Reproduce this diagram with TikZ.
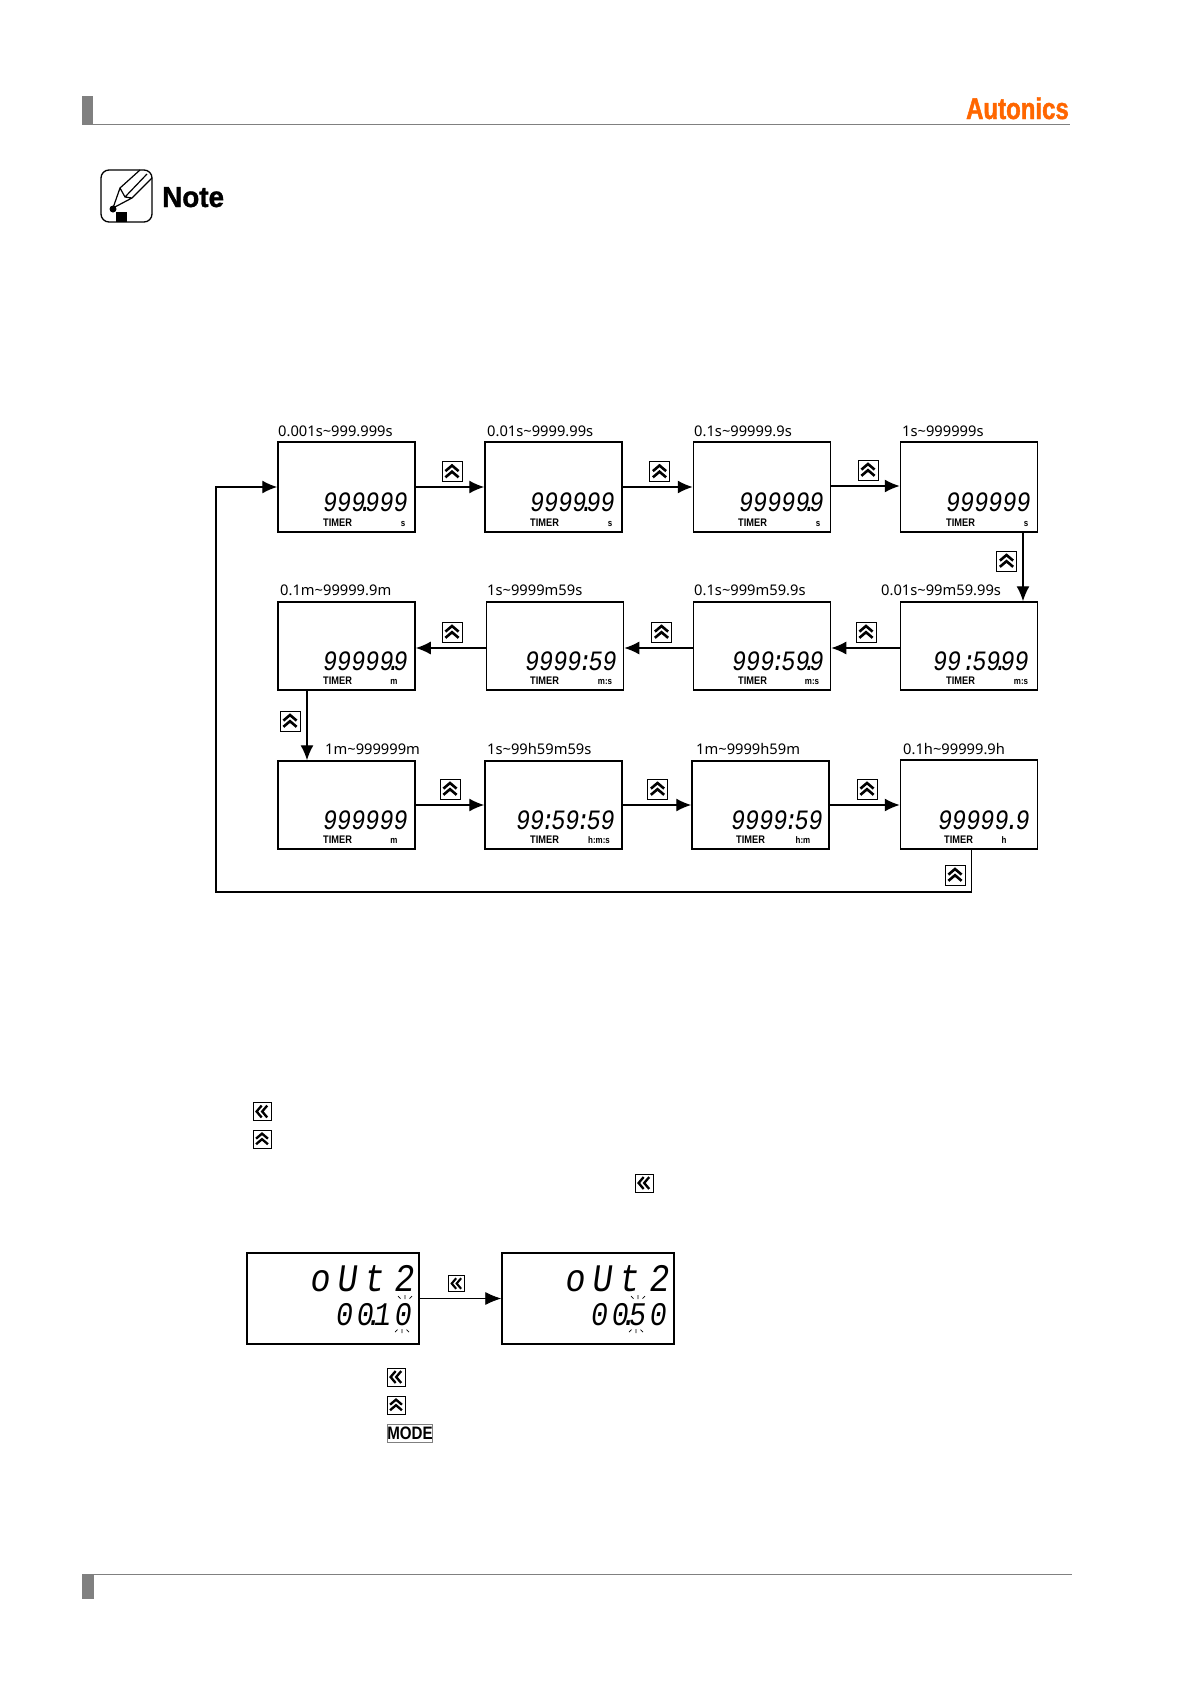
\documentclass[tikz,border=0pt]{standalone}
\usepackage{fontspec}
\setmainfont{Noto Sans}
\newfontfamily\lcdfont[FakeStretch=0.84,FakeSlant=0.14]{Liberation Mono}
\newfontfamily\lcdwide[FakeStretch=0.86,FakeSlant=0.14,LetterSpace=18]{Liberation Mono}
\newfontfamily\lcdmid[FakeStretch=0.86,FakeSlant=0.14,LetterSpace=12]{Liberation Mono}
\newfontfamily\logofont[FakeStretch=0.8,BoldFeatures={FakeBold=1.4}]{Liberation Sans}
\newfontfamily\notefont[FakeStretch=0.96,BoldFeatures={FakeBold=1.2}]{Liberation Sans}
\newfontfamily\tagfont[FakeStretch=0.84]{Liberation Sans}
\usetikzlibrary{arrows.meta,calc,positioning}
\definecolor{rulegray}{HTML}{808080}
\definecolor{logoorange}{HTML}{FF6600}
\newcommand{\lcddot}{\makebox[0pt]{.}}
\newcommand{\lcdcolon}{\makebox[7pt]{:}}
\newcommand{\tightspace}{\spaceskip=10pt\relax}
\tikzset{
    disp/.style={draw, line width=1.5pt, inner sep=0pt, minimum width=137pt, minimum height=88pt},
    rangelabel/.style={anchor=base west, inner sep=0pt, font=\fontsize{14.7}{16}\selectfont},
    digits/.style={anchor=base east, inner sep=0pt, font=\fontsize{28}{28}\lcdfont},
    bigname/.style={anchor=base east, inner sep=0pt, font=\fontsize{39}{39}\lcdwide\tightspace},
    bigval/.style={anchor=base east, inner sep=0pt, font=\fontsize{33}{33}\lcdmid},
    timer/.style={anchor=base west, inner sep=0pt, font=\fontsize{11}{11}\tagfont\bfseries},
    unit/.style={anchor=base, inner sep=0pt, font=\fontsize{9.5}{9.5}\tagfont\bfseries},
    flow/.style={-{Latex[length=15pt, width=13pt]}, line width=1.4pt},
    keybox/.style={draw, line width=0.9pt, inner sep=0pt, minimum size=#1pt},
    upkey/.style={keybox=#1, path picture={
        \begin{scope}[shift={(path picture bounding box.center)}, x=#1pt, y=-#1pt]
            \draw[line width=0.13*#1pt] (-.33,-.02) -- (0,-.3) -- (.33,-.02);
            \draw[line width=0.13*#1pt] (-.33,.29) -- (0,.01) -- (.33,.29);
        \end{scope}}},
    leftkey/.style={keybox=#1, path picture={
        \begin{scope}[shift={(path picture bounding box.center)}, x=#1pt, y=-#1pt]
            \draw[line width=0.13*#1pt] (-.02,-.33) -- (-.3,0) -- (-.02,.33);
            \draw[line width=0.13*#1pt] (.29,-.33) -- (.01,0) -- (.29,.33);
        \end{scope}}},
    pics/blinkup/.style={code={
        \draw[line width=0.7pt] (0,0) -- (0,-4) (-4.5,-.5) -- (-7,-3) (4.5,-.5) -- (7,-3);}},
    pics/blinkdown/.style={code={
        \draw[line width=0.7pt] (0,0) -- (0,4) (-4.5,.5) -- (-7,3) (4.5,.5) -- (7,3);}}
}

\begin{document}
\begin{tikzpicture}[x=1pt, y=-1pt]
    \useasboundingbox (0,0) rectangle (1191,1684);
    % page furniture
    \fill[white] (0,0) rectangle (1191,1684);
    \fill[rulegray] (82,96) rectangle (93,125);
    \draw[rulegray, line width=1pt] (93,124) -- (1070,124);
    \fill[rulegray] (82,1574) rectangle (94,1599);
    \draw[rulegray, line width=1pt] (94,1574) -- (1072,1574);
    \node[anchor=base east, inner sep=0pt, text=logoorange, font=\fontsize{30}{30}\logofont\bfseries] (logo) at (1069,119) {Autonics};
    % note mark
    \draw[line width=1.3pt, rounded corners=8pt] (101,170) rectangle (152,222);
    \draw[line width=1.2pt] (113,208) -- (120,188) -- (140,170) (113,208) -- (132,198) -- (152,178)
        (120,188) -- (125,197) -- (132,198) (125,197) -- (147,174);
    \fill (113,209) circle (3.5pt);
    \fill (116,212) rectangle (127,222);
    \node[anchor=base west, inner sep=0pt, font=\fontsize{29}{29}\notefont\bfseries] (note) at (162,207) {Note};

    % first row
    \node[disp, minimum height=90pt] (disp1) at (346.5,487) {};
    \node[disp, minimum height=90pt] (disp2) at (553.5,487) {};
    \node[disp, minimum height=90pt] (disp3) at (762,487) {};
    \node[disp, minimum height=90pt] (disp4) at (969,487) {};
    % second row, runs right to left
    \node[disp] (disp5) at (969,646) {};
    \node[disp] (disp6) at (762,646) {};
    \node[disp] (disp7) at (555,646) {};
    \node[disp] (disp8) at (346.5,646) {};
    % third row
    \node[disp] (disp9) at (346.5,805) {};
    \node[disp] (disp10) at (553.5,805) {};
    \node[disp] (disp11) at (760.5,805) {};
    \node[disp, minimum height=89pt] (disp12) at (969,804.5) {};

    \node[rangelabel] (range1) at (278,436) {0.001s\textasciitilde 999.999s};
    \node[rangelabel] (range2) at (487,436) {0.01s\textasciitilde 9999.99s};
    \node[rangelabel] (range3) at (694,436) {0.1s\textasciitilde 99999.9s};
    \node[rangelabel] (range4) at (902,436) {1s\textasciitilde 999999s};
    \node[rangelabel] (range5) at (881,595) {0.01s\textasciitilde 99m59.99s};
    \node[rangelabel] (range6) at (694,595) {0.1s\textasciitilde 999m59.9s};
    \node[rangelabel] (range7) at (487,595) {1s\textasciitilde 9999m59s};
    \node[rangelabel] (range8) at (280,595) {0.1m\textasciitilde 99999.9m};
    \node[rangelabel] (range9) at (325,754) {1m\textasciitilde 999999m};
    \node[rangelabel] (range10) at (487,754) {1s\textasciitilde 99h59m59s};
    \node[rangelabel] (range11) at (696,754) {1m\textasciitilde 9999h59m};
    \node[rangelabel] (range12) at (903,754) {0.1h\textasciitilde 99999.9h};

    \node[digits] (val1) at (407,511) {999\lcddot999};
    \node[digits] (val2) at (614,511) {9999\lcddot99};
    \node[digits] (val3) at (823,511) {99999\lcddot9};
    \node[digits] (val4) at (1030,511) {999999};
    \node[digits] (val5) at (1028,670) {99\hspace{4pt}\lcdcolon59\lcddot99};
    \node[digits] (val6) at (823,670) {999\lcdcolon59\lcddot9};
    \node[digits] (val7) at (616,670) {9999\lcdcolon59};
    \node[digits] (val8) at (407,670) {99999\lcddot9};
    \node[digits] (val9) at (407,829) {999999};
    \node[digits] (val10) at (614,829) {99\lcdcolon59\lcdcolon59};
    \node[digits] (val11) at (822,829) {9999\lcdcolon59};
    \node[digits] (val12) at (1029,829) {99999\makebox[7pt]{.}9};

    \node[timer] (tim1) at (323,526) {TIMER};
    \node[timer] (tim2) at (530,526) {TIMER};
    \node[timer] (tim3) at (738,526) {TIMER};
    \node[timer] (tim4) at (946,526) {TIMER};
    \node[timer] (tim5) at (946,684) {TIMER};
    \node[timer] (tim6) at (738,684) {TIMER};
    \node[timer] (tim7) at (530,684) {TIMER};
    \node[timer] (tim8) at (323,684) {TIMER};
    \node[timer] (tim9) at (323,843) {TIMER};
    \node[timer] (tim10) at (530,843) {TIMER};
    \node[timer] (tim11) at (736,843) {TIMER};
    \node[timer] (tim12) at (944,843) {TIMER};

    \node[unit] (unit1) at (403,526) {s};
    \node[unit] (unit2) at (610,526) {s};
    \node[unit] (unit3) at (818,526) {s};
    \node[unit] (unit4) at (1026,526) {s};
    \node[unit] (unit5) at (1021,684) {m:s};
    \node[unit] (unit6) at (812,684) {m:s};
    \node[unit] (unit7) at (605,684) {m:s};
    \node[unit] (unit8) at (394,684) {m};
    \node[unit] (unit9) at (394,843) {m};
    \node[unit] (unit10) at (599,843) {h:m:s};
    \node[unit] (unit11) at (803,843) {h:m};
    \node[unit] (unit12) at (1004,843) {h};

    \node[upkey=20] (key1) at (452,471.5) {};
    \node[upkey=20] (key2) at (659.5,471.5) {};
    \node[upkey=20] (key3) at (868,470) {};
    \node[upkey=20] (key4) at (1006.5,561) {};
    \node[upkey=20] (key5) at (866,632) {};
    \node[upkey=20] (key6) at (661.5,632) {};
    \node[upkey=20] (key7) at (452,632) {};
    \node[upkey=20] (key8) at (290,721) {};
    \node[upkey=20] (key9) at (450,789) {};
    \node[upkey=20] (key10) at (657.5,789) {};
    \node[upkey=20] (key11) at (867,789) {};
    \node[upkey=20] (key12) at (955,875) {};

    \draw[flow] (disp1) -- (disp2);
    \draw[flow] (disp2) -- (disp3);
    \draw[flow] ([yshift=1pt]disp3.east) -- ([yshift=1pt]disp4.west);
    \draw[flow] ([xshift=54pt]disp4.south) -- ([xshift=54pt]disp5.north);
    \draw[flow] ([yshift=-2pt]disp5.west) -- ([yshift=-2pt]disp6.east);
    \draw[flow] ([yshift=-2pt]disp6.west) -- ([yshift=-2pt]disp7.east);
    \draw[flow] ([yshift=-2pt]disp7.west) -- ([yshift=-2pt]disp8.east);
    \draw[flow] ([xshift=-39.5pt]disp8.south) -- ([xshift=-39.5pt]disp9.north);
    \draw[flow] (disp9) -- (disp10);
    \draw[flow] (disp10) -- (disp11);
    \draw[flow] (disp11) -- (disp12.west |- disp11.east);
    \coordinate (loopcorner) at (216,892);
    \draw[flow] ([xshift=2.5pt]disp12.south) |- (loopcorner) |- (disp1.west);

    % lower part
    \node[leftkey=18] (keyA) at (262,1111.5) {};
    \node[upkey=18] (keyB) at (262,1139) {};
    \node[leftkey=18] (keyC) at (644,1183) {};

    \node[disp, minimum width=172pt, minimum height=91pt] (outa) at (333,1298.5) {};
    \node[disp, minimum width=172pt, minimum height=91pt] (outb) at (588,1298.5) {};
    \node[bigname] (outaname) at (414,1291) {oUt 2};
    \node[bigval] (outaval) at (411,1325) {00\lcddot 10};
    \node[bigname] (outbname) at (669,1291) {oUt 2};
    \node[bigval] (outbval) at (666,1325) {00\lcddot 50};
    \pic at (405,1299) {blinkup};
    \pic at (402,1329) {blinkdown};
    \pic at (638,1299) {blinkup};
    \pic at (636,1329) {blinkdown};
    \node[leftkey=16] (keyD) at (456.5,1283.5) {};
    \draw[-{Latex[length=16pt, width=13pt]}, line width=0.8pt] (outa) -- (outb);

    \node[leftkey=18] (keyE) at (396,1377) {};
    \node[upkey=18] (keyF) at (396,1405) {};
    \node[draw, rulegray, text=black, line width=0.9pt, inner sep=0pt, minimum width=45pt, minimum height=18pt, font=\fontsize{18}{18}\tagfont\bfseries] (keymode) at (410,1433) {MODE};
\end{tikzpicture}
\end{document}
